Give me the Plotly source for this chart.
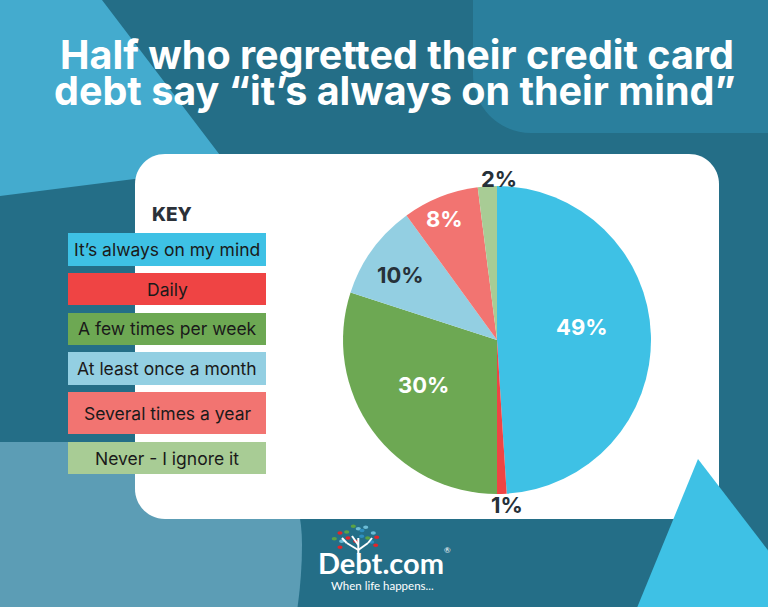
import math
import plotly.graph_objects as go

# ---------------- data ----------------
categories = ["It’s always on my mind", "Daily", "A few times per week",
              "At least once a month", "Several times a year", "Never - I ignore it"]
values = [49, 1, 30, 10, 8, 2]
pct_labels = ["49%", "1%", "30%", "10%", "8%", "2%"]
slice_colors = ["#3EC1E5", "#EF4444", "#6DA853", "#93CFE2", "#F27471", "#A8CC95"]

title_lines = ["Half who regretted their credit card",
               "debt say “it’s always on their mind”"]

# ---------------- canvas helpers ----------------
W, H = 768, 607
DARK = "#246E87"


def px(x):
    return x / W


def py(y):
    return 1 - y / H


def path_from(points_cmds):
    out = []
    for cmd, pts in points_cmds:
        coords = [f"{px(x):.5f},{py(y):.5f}" for (x, y) in pts]
        out.append(cmd + " " + " ".join(coords))
    return " ".join(out) + " Z"


def rounded_rect(x0, y0, x1, y1, r):
    k = 0.5523 * r
    cmds = [
        ("M", [(x0 + r, y0)]),
        ("L", [(x1 - r, y0)]),
        ("C", [(x1 - r + k, y0), (x1, y0 + r - k), (x1, y0 + r)]),
        ("L", [(x1, y1 - r)]),
        ("C", [(x1, y1 - r + k), (x1 - r + k, y1), (x1 - r, y1)]),
        ("L", [(x0 + r, y1)]),
        ("C", [(x0 + r - k, y1), (x0, y1 - r + k), (x0, y1 - r)]),
        ("L", [(x0, y0 + r)]),
        ("C", [(x0, y0 + r - k), (x0 + r - k, y0), (x0 + r, y0)]),
    ]
    return path_from(cmds)


def polygon(pts):
    cmds = [("M", [pts[0]])] + [("L", [p]) for p in pts[1:]]
    return path_from(cmds)


shapes = []


def add_path(path, color, layer="below"):
    shapes.append(dict(type="path", xref="paper", yref="paper", path=path,
                       fillcolor=color, line=dict(width=0), layer=layer))


# background decorations
add_path(polygon([(-5, -5), (102, -5), (102, 0), (229, 167), (-5, 196.6)]), "#44ABCE")
add_path(rounded_rect(473, -60, 830, 133, 58), "#2A7F9D")
add_path(path_from([
    ("M", [(-5, 442)]),
    ("L", [(200, 442)]),
    ("Q", [(302, 442), (302, 545)]),
    ("Q", [(302, 590), (292, 640)]),
    ("L", [(-5, 640)]),
]), "#5C9DB5")

# white card
add_path(rounded_rect(135, 154, 719, 519, 30), "#FFFFFF")

# bottom-right triangle
add_path(polygon([(698, 459), (780, 566), (780, 620), (632, 620)]), "#3EC1E5")

# legend boxes
box_rows = [(233, 266), (273, 305), (313, 345), (352, 385), (392, 434), (442, 474)]
for (t, b), col in zip(box_rows, slice_colors):
    shapes.append(dict(type="rect", xref="paper", yref="paper",
                       x0=px(68), x1=px(266), y0=py(b), y1=py(t),
                       fillcolor=col, line=dict(width=0), layer="below"))

# logo leaves
leaves = [
    (353.3, 526.3, "#5BA244"), (358.3, 528.7, "#6BBCD6"), (365.7, 527.3, "#6BBCD6"),
    (340.0, 533.0, "#E0262B"), (346.7, 532.0, "#5BA244"), (373.3, 533.0, "#6BBCD6"),
    (355.7, 541.3, "#E0262B"), (361.7, 536.3, "#2E8FC0"), (367.7, 538.0, "#5BA244"),
    (376.7, 537.3, "#E0262B"), (334.3, 538.7, "#5BA244"), (340.0, 547.3, "#E0262B"),
    (375.7, 545.3, "#E0262B"), (371.7, 542.0, "#2E8FC0"), (341.7, 541.3, "#6BBCD6"),
    (348.0, 538.0, "#E0262B"), (362.0, 530.5, "#2E8FC0"),
]
for (lx, ly, lc) in leaves:
    shapes.append(dict(type="circle", xref="paper", yref="paper",
                       x0=px(lx - 2.6), x1=px(lx + 2.6), y0=py(ly + 1.8), y1=py(ly - 1.8),
                       fillcolor=lc, line=dict(width=0), layer="above"))
for (a, b) in [((358.3, 554), (358.3, 538)), ((358.3, 550), (346.7, 543)),
               ((358.3, 550), (368, 543)), ((346.7, 543), (342, 538)),
               ((368, 543), (372, 538)), ((358.3, 545), (352, 536))]:
    shapes.append(dict(type="line", xref="paper", yref="paper",
                       x0=px(a[0]), y0=py(a[1]), x1=px(b[0]), y1=py(b[1]),
                       line=dict(color="white", width=2), layer="above"))

# ---------------- pie ----------------
pie_dom_x = [px(343), px(651)]
pie_dom_y = [py(494), py(186)]

fig = go.Figure()
fig.add_trace(go.Pie(
    values=values, labels=categories, sort=False, direction="clockwise", rotation=0,
    marker=dict(colors=slice_colors, line=dict(width=0)),
    textinfo="none", hoverinfo="label+percent", showlegend=False,
    domain=dict(x=pie_dom_x, y=pie_dom_y),
))

annotations = []
TITLE_FONT = "Inter"
for line, yc, xc in zip(title_lines, [54.5, 91], [397, 395]):
    annotations.append(dict(text=line, x=px(xc), y=py(yc), xref="paper", yref="paper",
                            xanchor="center", yanchor="middle", showarrow=False,
                            font=dict(family=TITLE_FONT, size=39.5, color="white", weight=700)))

annotations.append(dict(text="KEY", x=px(150), y=py(215), xref="paper", yref="paper",
                        xanchor="left", yanchor="middle", showarrow=False,
                        font=dict(family=TITLE_FONT, size=19, color="#2B3139", weight=800)))

for cat, (t, b) in zip(categories, box_rows):
    annotations.append(dict(text=cat, x=px(167), y=py((t + b) / 2), xref="paper", yref="paper",
                            xanchor="center", yanchor="middle", showarrow=False,
                            font=dict(family="Inter", size=17.5, color="#1A1A1A")))

# pie labels placed from cumulative values
cx = (pie_dom_x[0] + pie_dom_x[1]) / 2 * W
cy = (1 - (pie_dom_y[0] + pie_dom_y[1]) / 2) * H
R = min((pie_dom_x[1] - pie_dom_x[0]) * W, (pie_dom_y[1] - pie_dom_y[0]) * H) / 2
radial = [0.55, 1.07, 0.56, 0.75, 0.85, 1.05]
nudge = [(0, 10), (5, 0), (-4, 6), (-3, -3), (-4, -1), (12, 0)]
label_colors = ["white", "#263139", "white", "#263139", "white", "#263139"]
total = sum(values)
cum = 0
for v, lab, rf, (nx, ny), lc in zip(values, pct_labels, radial, nudge, label_colors):
    mid = math.radians((cum + v / 2) / total * 360)
    cum += v
    lx = cx + rf * R * math.sin(mid)
    ly = cy - rf * R * math.cos(mid)
    annotations.append(dict(text=lab, x=px(lx), y=py(ly), xref="paper", yref="paper",
                            xanchor="center", yanchor="middle", showarrow=False,
                            xshift=nx, yshift=ny,
                            font=dict(family=TITLE_FONT, size=22, color=lc, weight=700)))

# logo text
annotations.append(dict(text="Debt.com", x=px(381), y=py(562), xref="paper", yref="paper",
                        xanchor="center", yanchor="middle", showarrow=False,
                        font=dict(family="Lato", size=29, color="white", weight=700)))
annotations.append(dict(text="®", x=px(447), y=py(550), xref="paper", yref="paper",
                        xanchor="center", yanchor="middle", showarrow=False,
                        font=dict(family="Lato", size=8, color="white")))
annotations.append(dict(text="When life happens...", x=px(382), y=py(585), xref="paper", yref="paper",
                        xanchor="center", yanchor="middle", showarrow=False,
                        font=dict(family="Lato", size=11.5, color="white")))

fig.update_layout(
    width=W, height=H,
    margin=dict(l=0, r=0, t=0, b=0),
    paper_bgcolor=DARK, plot_bgcolor=DARK,
    shapes=shapes, annotations=annotations,
    showlegend=False,
)

fig.write_html("out.html", config={"displayModeBar": False},
               post_script="document.body.style.margin='0';document.body.style.padding='0';")
